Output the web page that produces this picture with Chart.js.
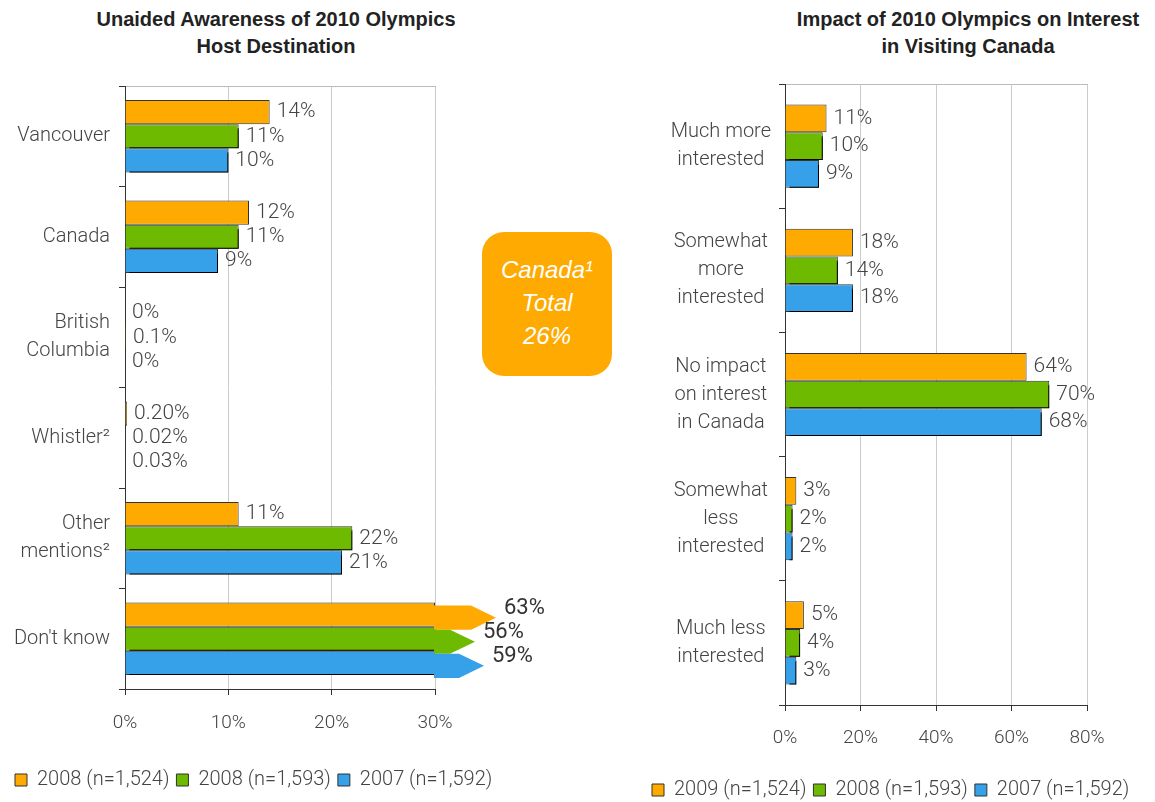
<!DOCTYPE html>
<html>
<head>
<meta charset="utf-8">
<script src="https://cdn.jsdelivr.net/npm/chart.js@4.4.0/dist/chart.umd.min.js"></script>
<style>
  body { margin: 0; background: #fff; width: 1155px; height: 802px; overflow: hidden; position: relative; }
  .title { position: absolute; top: 6px; width: 440px; text-align: center; font: bold 20px "Liberation Sans", Arial, sans-serif; line-height: 27px; color: #222; }
  .wrap { position: absolute; top: 0; height: 820px; }
  .callout { position: absolute; left: 482px; top: 232px; width: 130px; height: 144px; border-radius: 22px; background: #FFAA00;
    color: #fff; font: italic 24px "Liberation Sans", Arial, sans-serif; line-height: 33px; text-align: center; box-sizing: border-box; padding-top: 21px; }
</style>
</head>
<body>
<div class="title" style="left:56px">Unaided Awareness of 2010 Olympics<br>Host Destination</div>
<div class="title" style="left:748px">Impact of 2010 Olympics on Interest<br>in Visiting Canada</div>
<div class="wrap" style="left:0;width:560px"><canvas id="leftChart"></canvas></div>
<div class="wrap" style="left:600px;width:620px"><canvas id="rightChart"></canvas></div>
<div class="callout">Canada¹<br>Total<br>26%</div>
<script>
// Left chart: unaided awareness
const leftCategories = ['Vancouver', 'Canada', ['British', 'Columbia'], 'Whistler²', ['Other', 'mentions²'], "Don't know"];
const leftSeries = ['2008 (n=1,524)', '2008 (n=1,593)', '2007 (n=1,592)'];
const leftOrange = [14, 12, 0, 0.2, 11, 63];
const leftGreen = [11, 11, 0.1, 0.02, 22, 56];
const leftBlue = [10, 9, 0, 0.03, 21, 59];
const leftOrangeLabels = ['14%', '12%', '0%', '0.20%', '11%', '63%'];
const leftGreenLabels = ['11%', '11%', '0.1%', '0.02%', '22%', '56%'];
const leftBlueLabels = ['10%', '9%', '0%', '0.03%', '21%', '59%'];
const leftMax = 30;

// Right chart: impact on interest
const rightCategories = [['Much more', 'interested'], ['Somewhat', 'more', 'interested'], ['No impact', 'on interest', 'in Canada'], ['Somewhat', 'less', 'interested'], ['Much less', 'interested']];
const rightSeries = ['2009 (n=1,524)', '2008 (n=1,593)', '2007 (n=1,592)'];
const rightOrange = [11, 18, 64, 3, 5];
const rightGreen = [10, 14, 70, 2, 4];
const rightBlue = [9, 18, 68, 2, 3];
const rightMax = 80;

const colors = ['#FFAA00', '#6DBA00', '#36A0E8'];
const FONT = 'Roboto, "Liberation Sans", sans-serif';
const TEXT = '#444';

// draw bars top series first, shadow on the lower two
const shadowBars = {
  id: 'shadowBars',
  beforeDatasetsDraw(chart) {
    const ctx = chart.ctx;
    chart.data.datasets.forEach((ds, i) => {
      ctx.save();
      if (i > 0) {
        ctx.shadowColor = '#000';
        ctx.shadowOffsetX = 4;
        ctx.shadowOffsetY = 4;
        ctx.shadowBlur = 0;
      }
      chart.getDatasetMeta(i).controller.draw();
      ctx.restore();
    });
    return false;
  }
};

// value labels + arrow for bars going off the axis
const barNotes = {
  id: 'barNotes',
  afterDraw(chart) {
    const ctx = chart.ctx;
    const max = chart.scales.x.max;
    chart.data.datasets.forEach((ds, i) => {
      chart.getDatasetMeta(i).data.forEach((bar, j) => {
        const v = ds.rawValues[j];
        ctx.save();
        ctx.textBaseline = 'middle';
        if (v > max) {
          const top = bar.y - bar.height / 2 + 3;
          const bottom = bar.y + bar.height / 2 + 3;
          const shaft = (v - max - 21) * 3;
          const x0 = bar.x;
          ctx.fillStyle = ds.backgroundColor;
          ctx.beginPath();
          ctx.moveTo(x0 - 1, top);
          ctx.lineTo(x0 + shaft, top);
          ctx.lineTo(x0 + shaft + 25, bar.y + 3);
          ctx.lineTo(x0 + shaft, bottom);
          ctx.lineTo(x0 - 1, bottom);
          ctx.closePath();
          ctx.fill();
          ctx.font = '400 22px ' + FONT;
          ctx.fillStyle = '#333';
          ctx.fillText(ds.valueLabels[j], x0 + shaft + 33, bar.y - 6);
        } else {
          ctx.font = '300 21px ' + FONT;
          ctx.fillStyle = TEXT;
          ctx.fillText(ds.valueLabels[j], bar.x + 7, bar.y);
        }
        ctx.restore();
      });
    });
  }
};

function makeDataset(label, values, valueLabels, color, max, catPct) {
  return {
    label: label,
    data: values.map(v => Math.min(v, max)),
    rawValues: values,
    valueLabels: valueLabels,
    backgroundColor: color,
    borderColor: '#333',
    borderWidth: 1,
    borderSkipped: 'start',
    categoryPercentage: catPct,
    barPercentage: 1
  };
}

function makeChart(id, cfg) {
  return new Chart(document.getElementById(id), {
    type: 'bar',
    data: {
      labels: cfg.categories,
      datasets: cfg.series.map((s, i) => makeDataset(s, cfg.values[i], cfg.labels[i], colors[i], cfg.max, cfg.catPct))
    },
    options: {
      indexAxis: 'y',
      responsive: true,
      maintainAspectRatio: false,
      animation: false,
      layout: { padding: cfg.padding },
      plugins: {
        tooltip: { enabled: false },
        legend: {
          position: 'bottom',
          align: 'start',
          labels: { boxWidth: 12, boxHeight: 12, padding: 7, color: TEXT, font: { family: FONT, size: 20, weight: 300 } }
        }
      },
      scales: {
        x: {
          min: 0,
          max: cfg.max,
          ticks: { stepSize: cfg.step, padding: cfg.xPad, color: TEXT, font: { family: FONT, size: 19, weight: 300 }, callback: v => v + '%' },
          grid: { color: '#ccc', tickColor: '#333', tickLength: 6 },
          border: { color: '#333' },
          afterFit: s => { s.height = cfg.xHeight; }
        },
        x2: {
          position: 'top',
          ticks: { display: false },
          grid: { drawOnChartArea: false, drawTicks: false },
          border: { color: '#bbb' },
          afterFit: s => { s.height = 0; }
        },
        y: {
          offset: true,
          ticks: { padding: cfg.yPad, crossAlign: cfg.crossAlign, color: TEXT, font: { family: FONT, size: 20, weight: 300, lineHeight: 1.4 } },
          grid: { drawOnChartArea: false, offset: true, tickLength: 6, tickColor: '#333' },
          border: { color: '#333' },
          afterFit: s => { s.width = cfg.yWidth; }
        },
        // empty right-hand gap so the legend can run wider than the plot
        yGap: {
          position: 'right',
          ticks: { display: false },
          grid: { display: false },
          border: { display: false },
          afterFit: s => { s.width = cfg.rightGap; }
        }
      }
    },
    plugins: [shadowBars, barNotes]
  });
}

makeChart('leftChart', {
  categories: leftCategories,
  series: leftSeries,
  values: [leftOrange, leftGreen, leftBlue],
  labels: [leftOrangeLabels, leftGreenLabels, leftBlueLabels],
  max: leftMax, step: 10, catPct: 0.72,
  padding: { left: 8, right: 0, top: 86, bottom: 20 },
  xHeight: 74, xPad: 17, yPad: 9, yWidth: 117, rightGap: 125, crossAlign: 'near'
});

makeChart('rightChart', {
  categories: rightCategories,
  series: rightSeries,
  values: [rightOrange, rightGreen, rightBlue],
  labels: [rightOrange.map(v => v + '%'), rightGreen.map(v => v + '%'), rightBlue.map(v => v + '%')],
  max: rightMax, step: 20, catPct: 0.67,
  padding: { left: 45, right: 0, top: 84, bottom: 10 },
  xHeight: 68, xPad: 16, yPad: 8, yWidth: 140, rightGap: 133, crossAlign: 'center'
});
</script>
</body>
</html>
